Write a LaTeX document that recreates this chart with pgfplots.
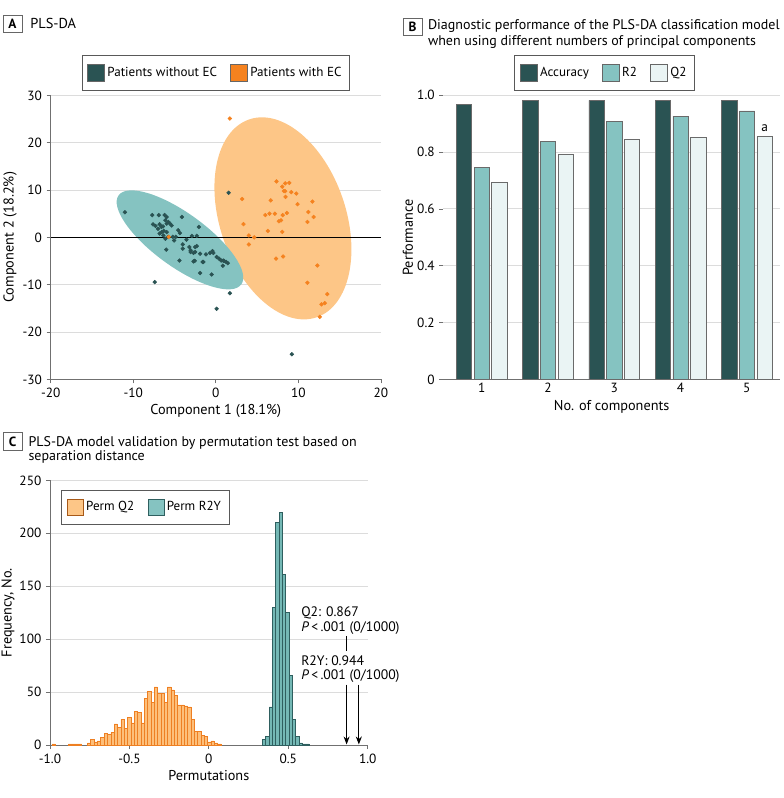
\documentclass[border=0pt]{standalone}
\usepackage{pgfplots}
\pgfplotsset{compat=1.18}
\usepackage{fontspec}
\setmainfont{PT Sans}
\usetikzlibrary{arrows.meta}
\definecolor{dteal}{HTML}{2A5353}
\definecolor{mteal}{HTML}{85C3C1}
\definecolor{lteal}{HTML}{EAF4F4}
\definecolor{lorange}{HTML}{FDC687}
\definecolor{dorange}{HTML}{F5821F}
\definecolor{histor}{HTML}{FDBF7A}
\definecolor{historb}{HTML}{EE7F22}
\definecolor{histteal}{HTML}{74B8B5}
\definecolor{histtealb}{HTML}{2F5F5F}
\definecolor{gridc}{HTML}{DCDCDC}
\definecolor{axisc}{HTML}{707070}
\definecolor{barb}{HTML}{6A6A6A}
\begin{document}
\begin{tikzpicture}
\path[use as bounding box] (0,0) rectangle (587.25pt,-598.5pt);
\pgfplotsset{
  every axis/.append style={
    scale only axis,
    tick label style={font=\fontsize{10}{12}\selectfont},
    label style={font=\fontsize{10.7}{13}\selectfont},
    /pgf/number format/assume math mode=true,
    axis line style={axisc, line width=0.6pt},
    major tick style={axisc, line width=0.6pt},
    tick align=outside,
    major tick length=3pt,
    grid style={gridc, line width=0.7pt},
  },
  mylegend/.style={legend style={at={#1}, anchor=center, draw=black!65, line width=0.5pt,
    font=\fontsize{9.8}{12}\selectfont, inner xsep=4pt, inner ysep=6.5pt,
    /tikz/every even column/.append style={column sep=8pt}}},
}
% ---------- titles ----------
\node[draw=black!60, line width=0.5pt, minimum width=14.3pt, minimum height=12.8pt, inner sep=0pt, font=\bfseries\fontsize{10}{12}\selectfont] at (9.4pt,-17.6pt) {A};
\node[anchor=base west, inner sep=0pt, font=\fontsize{10.8}{14}\selectfont] at (22.5pt,-21.2pt) {PLS-DA};
\node[draw=black!60, line width=0.5pt, minimum width=14.3pt, minimum height=12.8pt, inner sep=0pt, font=\bfseries\fontsize{10}{12}\selectfont] at (309.4pt,-19.9pt) {B};
\node[anchor=base west, inner sep=0pt, font=\fontsize{10.5}{14}\selectfont] at (320.8pt,-22pt) {Diagnostic performance of the PLS-DA classification model};
\node[anchor=base west, inner sep=0pt, font=\fontsize{10.5}{14}\selectfont] at (320.8pt,-34.3pt) {when using different numbers of principal components};
\node[draw=black!60, line width=0.5pt, minimum width=14.3pt, minimum height=12.8pt, inner sep=0pt, font=\bfseries\fontsize{10}{12}\selectfont] at (9.4pt,-331pt) {C};
\node[anchor=base west, inner sep=0pt, font=\fontsize{10.5}{14}\selectfont] at (21.2pt,-334.5pt) {PLS-DA model validation by permutation test based on};
\node[anchor=base west, inner sep=0pt, font=\fontsize{10.5}{14}\selectfont] at (21.2pt,-345pt) {separation distance};

% ---------- Panel A ----------
\begin{axis}[
  at={(38.0pt,-284.5pt)}, anchor=south west,
  width=247.7pt, height=213pt,
  xmin=-20, xmax=20, ymin=-30, ymax=30,
  axis x line*=bottom, axis y line*=left,
  xtick={-20,-10,0,10,20}, ytick={-30,-20,-10,0,10,20,30},
  ymajorgrids,
  xlabel={Component 1 (18.1\%)}, ylabel={Component 2 (18.2\%)},
  xlabel style={at={(axis description cs:0.5,-0.112)}, anchor=center},
  ylabel style={at={(axis description cs:-0.123,0.5)}, anchor=center},
  mylegend={(0.5,1.079)}, legend columns=2,
]
\fill[lorange, rotate around={18.8:(axis cs:8.13,4.01)}] (axis cs:8.13,4.01) ellipse [x radius=47.25pt, y radius=78.4pt];
\fill[mteal, rotate around={-36:(axis cs:-4.34,-0.53)}] (axis cs:-4.34,-0.53) ellipse [x radius=56.85pt, y radius=20pt];
\draw[black, line width=0.8pt] (axis cs:-20,0) -- (axis cs:20,0);
\addplot[only marks, mark=*, mark size=1.4pt, color=dteal,
  legend image code/.code={\draw[draw=black!60, line width=0.4pt, fill=dteal] (0pt,-6.2pt) rectangle (12.6pt,6.2pt);}]
  coordinates {(-11.0,5.3) (-7.7,4.7) (-6.9,4.7) (-6.2,4.7) (-5.95,4.3) (-4.1,4.3) (-7.6,2.75) (-7.3,2.4) (-7.0,1.8) (-6.8,2.75) (-6.6,2.2) (-6.4,2.3) (-6.1,3.6) (-5.95,2.9) (-5.75,3.25) (-5.55,2.9) (-5.35,2.5) (-6.8,0.8) (-6.55,1.1) (-6.3,1.35) (-5.95,1.1) (-6.35,0.4) (-6.1,-0.3) (-6.0,-2.6) (-5.75,0.1) (-5.2,0.1) (-5.05,-0.65) (-4.85,0.1) (-4.55,1.5) (-4.35,0.9) (-4.0,-1.5) (-3.55,-0.5) (-3.2,-2.05) (-3.05,-2.75) (-2.9,0.3) (-2.3,0.3) (-2.05,2.2) (-4.4,-4.9) (-4.0,-2.4) (-2.5,-2.05) (-2.5,-3.1) (-2.3,-1.85) (-2.7,-3.3) (-2.55,-4.95) (-1.9,-3.45) (-1.5,-5.2) (-1.2,-3.6) (-0.7,-3.3) (-0.3,-3.3) (0.1,-4.15) (0.4,-4.5) (0.65,-4.9) (0.85,-6.0) (1.0,-5.0) (1.25,-5.2) (1.45,-5.45) (-1.9,-7.55) (-0.5,-7.85) (1.55,9.4) (-7.4,-9.45) (1.7,-11.8) (0.1,-15.1) (9.2,-24.7) (-3.05,-3.1) (-2.7,-5.1) (-1.6,-5.2) (0.9,-4.9) (-0.4,-2.9)};
\addlegendentry{Patients without EC}
\addplot[only marks, mark=*, mark size=1.4pt, color=dorange,
  legend image code/.code={\draw[draw=black!60, line width=0.4pt, fill=dorange] (0pt,-6.2pt) rectangle (12.6pt,6.2pt);}]
  coordinates {(1.7,25.1) (-5.7,0.1) (3.2,8.1) (3.35,2.8) (4.0,0.4) (4.0,-1.5) (4.65,0.0) (6.0,4.7) (6.5,5.0) (7.15,5.0) (7.35,11.8) (6.65,7.8) (6.3,1.35) (7.65,3.4) (7.9,3.6) (8.05,10.7) (8.1,4.7) (8.25,9.8) (8.4,11.4) (8.4,9.75) (8.6,5.15) (8.9,11.5) (8.45,8.55) (8.05,1.15) (9.15,9.55) (9.75,9.25) (9.9,7.0) (7.3,-4.5) (8.15,-4.05) (11.7,7.55) (11.2,5.35) (11.85,4.3) (11.1,3.25) (12.3,-5.95) (11.1,-9.6) (13.5,-12.0) (13.2,-13.9) (12.8,-14.15) (12.6,-16.8)};
\addlegendentry{Patients with EC}
\end{axis}

% ---------- Panel B ----------
\begin{axis}[
  at={(332.5pt,-284.5pt)}, anchor=south west,
  width=252.5pt, height=213pt,
  xmin=0.42, xmax=5.5, ymin=0, ymax=1,
  axis x line*=bottom, axis y line*=left,
  y axis line style={draw=none},
  xtick={1,2,3,4,5}, x tick style={draw=none},
  x tick label style={yshift=4pt},
  ytick={0,0.2,0.4,0.6,0.8,1.0}, yticklabels={0,0.2,0.4,0.6,0.8,1.0},
  ymajorgrids,
  xlabel={No. of components}, ylabel={Performance},
  xlabel style={at={(axis description cs:0.5,-0.0975)}, anchor=center},
  ylabel style={at={(axis description cs:-0.105,0.5)}, anchor=center},
  mylegend={(0.479,1.079)}, legend columns=3,
]
\addplot[ybar, bar width=0.231, bar shift=0, fill=dteal, draw=barb, line width=0.5pt,
  legend image code/.code={\draw[draw=black!60, line width=0.4pt, fill=dteal] (0pt,-6.2pt) rectangle (12.6pt,6.2pt);}]
  coordinates {(0.733,0.967) (1.733,0.982) (2.733,0.982) (3.733,0.982) (4.733,0.982)};
\addlegendentry{Accuracy}
\addplot[ybar, bar width=0.231, bar shift=0, fill=mteal, draw=barb, line width=0.5pt,
  legend image code/.code={\draw[draw=black!60, line width=0.4pt, fill=mteal] (0pt,-6.2pt) rectangle (12.6pt,6.2pt);}]
  coordinates {(1,0.747) (2,0.837) (3,0.909) (4,0.927) (5,0.945)};
\addlegendentry{R2}
\addplot[ybar, bar width=0.231, bar shift=0, fill=lteal, draw=barb, line width=0.5pt,
  legend image code/.code={\draw[draw=black!60, line width=0.4pt, fill=lteal] (0pt,-6.2pt) rectangle (12.6pt,6.2pt);}]
  coordinates {(1.267,0.694) (2.267,0.793) (3.267,0.845) (4.267,0.852) (5.267,0.855)};
\addlegendentry{Q2}
\node[font=\fontsize{10}{12}\selectfont, anchor=center] at (axis cs:5.267,0.886) {a};
\end{axis}

% ---------- Panel C ----------
\begin{axis}[
  at={(37.5pt,-558.75pt)}, anchor=south west,
  width=238.3pt, height=198.5pt,
  clip=false,
  xmin=-1, xmax=1, ymin=0, ymax=250,
  axis x line*=bottom, axis y line*=left,
  xtick={-1,-0.5,0,0.5,1}, xticklabels={-1.0,-0.5,0,0.5,1.0},
  ytick={0,50,100,150,200,250},
  ymajorgrids,
  xlabel={Permutations}, ylabel={Frequency, No.},
  xlabel style={at={(axis description cs:0.5,-0.117)}, anchor=center},
  ylabel style={at={(axis description cs:-0.132,0.5)}, anchor=center},
  mylegend={(0.30,0.899)}, legend columns=2,
]
\addplot[ybar, bar width=0.021, bar shift=0, fill=histor, draw=historb, line width=0.4pt,
  legend image code/.code={\draw[draw=historb!70!black, line width=0.4pt, fill=lorange] (0pt,-6pt) rectangle (12pt,6pt);}]
  coordinates {(-0.977,1) (-0.874,1) (-0.853,1) (-0.832,1) (-0.811,1) (-0.754,2) (-0.733,5) (-0.712,3) (-0.691,4) (-0.670,7) (-0.649,11) (-0.628,10) (-0.607,12) (-0.586,20) (-0.565,17) (-0.544,24) (-0.523,16) (-0.502,26) (-0.481,21) (-0.460,32) (-0.439,31) (-0.418,21) (-0.397,44) (-0.376,51) (-0.355,40) (-0.334,55) (-0.313,49) (-0.292,49) (-0.271,40) (-0.250,55) (-0.229,52) (-0.208,47) (-0.187,38) (-0.166,38) (-0.145,37) (-0.124,36) (-0.103,24) (-0.082,13) (-0.061,13) (-0.040,9) (-0.019,8) (0.002,3) (0.023,4) (0.044,2) (0.065,1)};
\addlegendentry{Perm Q2}
\addplot[ybar, bar width=0.021, bar shift=0, fill=histteal, draw=histtealb, line width=0.4pt,
  legend image code/.code={\draw[draw=histtealb, line width=0.4pt, fill=mteal] (0pt,-6pt) rectangle (12pt,6pt);}]
  coordinates {(0.347,5) (0.368,8) (0.389,36) (0.410,130) (0.431,210) (0.452,220) (0.473,161) (0.494,125) (0.515,66) (0.536,24) (0.557,8) (0.578,2) (0.599,1) (0.620,1)};
\addlegendentry{Perm R2Y}
\draw[-{Stealth[length=6pt,width=4.5pt]}, line width=0.8pt] (axis cs:0.867,57) -- (axis cs:0.867,0.5);
\draw[-{Stealth[length=6pt,width=4.5pt]}, line width=0.8pt] (axis cs:0.944,57) -- (axis cs:0.944,0.5);
\draw[line width=0.8pt] (axis cs:0.867,103) -- (axis cs:0.867,88.6);
\node[anchor=base west, inner sep=0pt, font=\fontsize{10.3}{13}\selectfont] at (axis cs:0.58,121) {Q2: 0.867};
\node[anchor=base west, inner sep=0pt, font=\fontsize{10.3}{13}\selectfont] at (axis cs:0.58,107.6) {\textit{P}\,<\,.001 (0/1000)};
\node[anchor=base west, inner sep=0pt, font=\fontsize{10.3}{13}\selectfont] at (axis cs:0.58,75.3) {R2Y: 0.944};
\node[anchor=base west, inner sep=0pt, font=\fontsize{10.3}{13}\selectfont] at (axis cs:0.58,61.7) {\textit{P}\,<\,.001 (0/1000)};
\end{axis}
\end{tikzpicture}
\end{document}
